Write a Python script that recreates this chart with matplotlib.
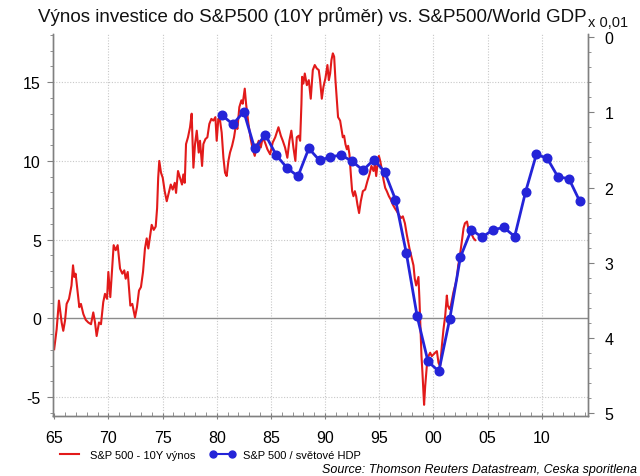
import matplotlib
matplotlib.use("Agg")
import matplotlib.pyplot as plt
from matplotlib.lines import Line2D
from matplotlib.ticker import MultipleLocator

plt.rcParams['font.family'] = ['Liberation Sans', 'DejaVu Sans']
plt.rcParams['axes.unicode_minus'] = False

# ---- data ----
red_years = [
    1965.0, 1965.23, 1965.44, 1965.69, 1965.84, 1966.0, 1966.15, 1966.37, 1966.6, 1966.74,
    1966.86, 1966.98, 1967.17, 1967.32, 1967.47, 1967.69, 1967.91, 1968.15, 1968.4, 1968.61,
    1968.77, 1968.92, 1969.14, 1969.32, 1969.53, 1969.69, 1969.88, 1970.0, 1970.18, 1970.31,
    1970.49, 1970.68, 1970.86, 1971.08, 1971.29, 1971.47, 1971.6, 1971.79, 1971.91, 1972.03,
    1972.21, 1972.46, 1972.64, 1972.83, 1973.01, 1973.2, 1973.38, 1973.54, 1973.69, 1973.87,
    1974.0, 1974.19, 1974.37, 1974.5, 1974.6, 1974.7, 1974.86, 1975.02, 1975.2, 1975.39,
    1975.57, 1975.76, 1975.94, 1976.13, 1976.25, 1976.43, 1976.62, 1976.8, 1976.92, 1977.05,
    1977.17, 1977.35, 1977.54, 1977.69, 1977.85, 1978.0, 1978.16, 1978.34, 1978.46, 1978.65,
    1978.77, 1978.96, 1979.14, 1979.32, 1979.51, 1979.69, 1979.88, 1980.0, 1980.15, 1980.31,
    1980.46, 1980.62, 1980.77, 1980.92, 1981.08, 1981.23, 1981.42, 1981.6, 1981.79, 1981.91,
    1982.09, 1982.28, 1982.4, 1982.59, 1982.71, 1982.93, 1983.14, 1983.33, 1983.51, 1983.7,
    1983.88, 1984.07, 1984.25, 1984.46, 1984.68, 1984.93, 1985.17, 1985.4, 1985.7, 1985.92,
    1986.1, 1986.31, 1986.52, 1986.71, 1986.89, 1987.08, 1987.26, 1987.39, 1987.57, 1987.7,
    1987.82, 1987.88, 1988.0, 1988.13, 1988.32, 1988.5, 1988.68, 1988.87, 1989.05, 1989.24,
    1989.42, 1989.54, 1989.7, 1989.85, 1990.03, 1990.22, 1990.35, 1990.47, 1990.59, 1990.72,
    1990.84, 1990.96, 1991.09, 1991.2, 1991.39, 1991.51, 1991.64, 1991.76, 1991.88, 1992.01,
    1992.13, 1992.25, 1992.38, 1992.5, 1992.62, 1992.75, 1992.87, 1992.99, 1993.14, 1993.3,
    1993.49, 1993.7, 1993.91, 1994.1, 1994.28, 1994.47, 1994.6, 1994.72, 1994.84, 1994.97,
    1995.09, 1995.24, 1995.39, 1995.55, 1995.7, 1995.89, 1996.07, 1996.26, 1996.44, 1996.63,
    1996.81, 1997.0, 1997.18, 1997.37, 1997.55, 1997.79, 1997.97, 1998.16, 1998.28, 1998.41,
    1998.53, 1998.62, 1998.71, 1998.8, 1998.9, 1998.99, 1999.08, 1999.14, 1999.24, 1999.39,
    1999.54, 1999.7, 1999.85, 2000.0, 2000.16, 2000.32, 2000.47, 2000.62, 2000.78, 2000.93,
    2001.09, 2001.24, 2001.33, 2001.48, 2001.61, 2001.73, 2001.85, 2002.01, 2002.16, 2002.29,
    2002.41, 2002.54, 2002.66, 2002.78, 2002.91, 2003.1, 2003.25, 2003.4, 2003.56, 2003.71,
    2003.86,
]
red_values = [
    -1.96, -0.69, 1.13, -0.26, -0.79, -0.15, 0.92, 1.24, 2.09, 3.37,
    2.63, 2.84, 1.67, 0.71, 0.92, 0.28, -0.09, -0.26, -0.37, 0.38,
    -0.26, -1.12, -0.26, -0.37, 1.03, 1.56, 1.24, 2.95, 1.35, 2.73,
    4.65, 4.33, 4.65, 3.16, 2.84, 3.05, 2.52, 2.95, 1.88, 0.81,
    0.92, 0.06, 0.71, 1.77, 1.99, 2.95, 4.44, 5.08, 4.44, 5.29,
    5.94, 5.62, 5.83, 7.0, 8.93, 10.0, 9.25, 8.93, 8.08, 7.44,
    7.97, 8.5, 8.18, 8.61, 7.97, 9.36, 8.93, 8.5, 9.14, 8.61,
    11.07, 11.5, 12.14, 13.0, 9.57, 11.07, 11.92, 10.53, 11.28, 9.68,
    11.07, 11.39, 11.5, 12.35, 12.67, 12.56, 12.78, 11.28, 12.67, 12.56,
    11.8, 10.2, 9.25, 9.04, 10.0, 10.53, 10.96, 11.5, 12.35, 12.03,
    13.42, 13.85, 13.63, 14.59, 13.63, 12.35, 11.39, 10.74, 10.32, 10.96,
    11.28, 10.85, 11.5, 11.17, 10.74, 10.42, 11.17, 11.5, 12.14, 11.6,
    11.28, 10.85, 10.2, 11.28, 11.92, 10.85, 10.0, 11.5, 11.6, 11.28,
    13.63, 15.34, 14.91, 15.55, 14.81, 15.13, 13.95, 15.77, 16.09, 15.87,
    15.77, 15.13, 13.95, 14.7, 15.23, 16.09, 15.13, 15.55, 16.41, 16.83,
    16.62, 15.13, 13.85, 12.78, 12.56, 12.03, 11.5, 11.6, 11.07, 10.74,
    10.96, 10.42, 9.14, 8.08, 7.76, 8.08, 7.76, 7.22, 6.69, 7.44,
    8.08, 8.18, 8.72, 9.14, 9.68, 9.36, 9.78, 9.04, 9.78, 10.32,
    10.0, 9.46, 8.82, 8.29, 8.08, 7.76, 7.54, 7.22, 7.0, 6.8,
    6.58, 6.37, 6.48, 6.04, 5.3, 4.44, 3.91, 3.37, 2.52, 2.09,
    2.41, 2.63, 1.24, -0.47, -2.4, -3.46, -4.74, -5.49, -4.32, -3.04,
    -2.4, -2.18, -2.4, -2.29, -2.18, -2.08, -2.82, -3.04, -1.76, -0.69,
    0.17, 1.45, 0.81, 0.6, 0.81, 1.24, 1.67, 2.09, 2.52, 3.37,
    3.8, 4.44, 5.08, 5.72, 6.04, 6.15, 5.62, 5.51, 5.3, 5.08,
    4.97,
]

blue_years = [
    1980.5, 1981.5, 1982.5, 1983.5, 1984.5, 1985.5, 1986.5, 1987.5, 1988.5, 1989.5,
    1990.5, 1991.5, 1992.5, 1993.5, 1994.5, 1995.5, 1996.5, 1997.5, 1998.5, 1999.5,
    2000.5, 2001.5, 2002.5, 2003.5, 2004.5, 2005.5, 2006.5, 2007.5, 2008.5, 2009.5,
    2010.5, 2011.5, 2012.5, 2013.5,
]
blue_values = [
    1.04, 1.16, 0.99, 1.48, 1.30, 1.57, 1.74, 1.85, 1.48, 1.64,
    1.59, 1.57, 1.65, 1.77, 1.63, 1.79, 2.16, 2.87, 3.71, 4.31,
    4.44, 3.75, 2.92, 2.56, 2.66, 2.56, 2.53, 2.65, 2.06, 1.56,
    1.61, 1.86, 1.88, 2.18,
]

x_ticks = [1965, 1970, 1975, 1980, 1985, 1990, 1995, 2000, 2005, 2010]
x_labels = ['65', '70', '75', '80', '85', '90', '95', '00', '05', '10']
left_ticks = [-5, 0, 5, 10, 15]
right_ticks = [0, 1, 2, 3, 4, 5]

title = "Výnos investice do S&P500 (10Y průměr) vs. S&P500/World GDP"
red_label = "S&P 500 - 10Y výnos"
blue_label = "S&P 500 / světové HDP"
source = "Source: Thomson Reuters Datastream, Ceska sporitlena"

RED = '#e21a1a'
BLUE = '#2424d8'
SPINE = '#808080'

fig = plt.figure(figsize=(6.4, 4.77), dpi=100)
ax = fig.add_axes([53.3 / 640, 1 - 416.7 / 477, (587.7 - 53.3) / 640, (416.7 - 35) / 477])
ax2 = ax.twinx()

ax.set_xlim(1964.92, 2014.24)
ax.set_ylim(-6.18, 18.06)
ax2.set_ylim(5.03, -0.04)

# grid
for xt in x_ticks[1:]:
    ax.axvline(xt, color='#c8c8c8', lw=0.8, ls=(0, (1, 1.5)), zorder=0)
for yt in left_ticks:
    if yt == 0:
        ax.axhline(0, color='#8c8c8c', lw=1.0, zorder=0.5)
    else:
        ax.axhline(yt, color='#c8c8c8', lw=0.8, ls=(0, (1, 1.5)), zorder=0)

ax.plot(red_years, red_values, color=RED, lw=1.5, zorder=2)
ax2.plot(blue_years, blue_values, color=BLUE, lw=2.0, marker='o', ms=6.2, zorder=3)

# ticks
ax.set_xticks(x_ticks)
ax.set_xticklabels(x_labels)
ax.xaxis.set_minor_locator(MultipleLocator(1))
ax.set_yticks(left_ticks)
ax.yaxis.set_minor_locator(MultipleLocator(1))
ax2.set_yticks(right_ticks)
ax2.yaxis.set_minor_locator(MultipleLocator(0.2))

ax.tick_params(axis='x', which='major', direction='inout', length=5, width=0.8, color=SPINE,
               labelsize=11.5, pad=8)
ax.tick_params(axis='x', which='minor', direction='in', length=3, width=0.6, color=SPINE)
ax.tick_params(axis='y', which='major', direction='out', length=4, width=0.8, color=SPINE,
               labelsize=11.5, pad=5)
ax.tick_params(axis='y', which='minor', direction='out', length=2, width=0.6, color=SPINE)
ax2.tick_params(axis='y', which='major', direction='out', length=4, width=0.8, color=SPINE,
                labelsize=11.5, pad=8)
ax2.tick_params(axis='y', which='minor', direction='out', length=2, width=0.6, color=SPINE)

for a in (ax, ax2):
    a.spines['top'].set_visible(False)
    for s in ('left', 'right', 'bottom'):
        a.spines[s].set_color(SPINE)
        a.spines[s].set_linewidth(1.0)

# texts
fig.text(312 / 640, 1 - 17 / 477, title, ha='center', va='center', fontsize=13.5,
         color='#111111')
fig.text(588 / 640, 1 - 23 / 477, 'x 0,01', ha='left', va='center', fontsize=10.5,
         color='#111111')

handles = [Line2D([], [], color=RED, lw=1.5),
           Line2D([], [], color=BLUE, lw=1.5, marker='o', ms=5)]
fig.legend(handles, [red_label, blue_label], loc='center left',
           bbox_to_anchor=(57 / 640, 1 - 456 / 477), ncol=2, frameon=False,
           fontsize=8, numpoints=2, handlelength=2.3, handletextpad=0.7,
           columnspacing=1.3, borderpad=0, borderaxespad=0)
fig.text(637 / 640, 1 - 470 / 477, source, ha='right', va='center', fontsize=9,
         style='italic')

fig.savefig('out.png', dpi=100)
